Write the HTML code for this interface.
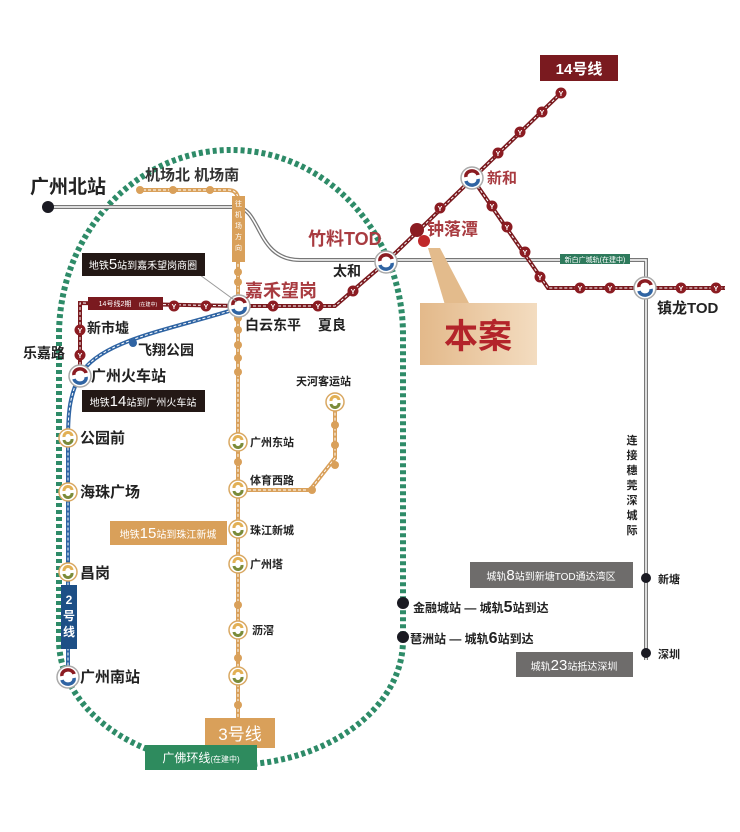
<!DOCTYPE html>
<html><head><meta charset="utf-8"><style>
html,body{margin:0;padding:0;background:#fff}
svg{display:block}
text{font-family:"Liberation Sans","Noto Sans CJK SC",sans-serif}
</style></head><body>
<svg width="740" height="832" viewBox="0 0 740 832" xmlns="http://www.w3.org/2000/svg">
<defs>
<linearGradient id="g" x1="0" x2="1"><stop offset="0" stop-color="#e3b98a"/><stop offset="1" stop-color="#f3dcc0"/></linearGradient>
<g id="hub"><circle r="11" fill="#fff" stroke="#aaa" stroke-width="1.5"/><path d="M-6,-1 A6,5 0 0 1 6,-3" stroke="#8b1c22" stroke-width="3.5" fill="none"/><path d="M-6,3 A6,5 0 0 0 6,1" stroke="#2f64a3" stroke-width="3.5" fill="none"/></g>
<g id="hubo"><circle r="9" fill="#fff" stroke="#d9a862" stroke-width="1.5"/><path d="M-4,-1 A4,4 0 0 1 4,-2" stroke="#e2b055" stroke-width="3" fill="none"/><path d="M-4,2 A4,4 0 0 0 4,1" stroke="#7a8b3a" stroke-width="3" fill="none"/></g>
<g id="ry"><circle r="5.5" fill="#8b1c22"/><text y="3" text-anchor="middle" font-size="7" fill="#fff" font-weight="bold">Y</text></g>
<g id="oy"><circle r="4" fill="#d9a05a"/></g>
</defs>

<!-- green loop -->
<path d="M59,640 L59,335 A172,185 0 0 1 403,335 L403,640 A172,125 0 0 1 59,640" fill="none" stroke="#2e8b68" stroke-width="6" stroke-dasharray="4 3"/>

<!-- gray intercity line -->
<g fill="none" stroke="#777" stroke-width="4"><path d="M48,207 L235,207 C262,207 255,260 300,260 L646,260 L646,660"/></g>
<g fill="none" stroke="#fff" stroke-width="1.5"><path d="M48,207 L235,207 C262,207 255,260 300,260 L646,260 L646,660"/></g>
<circle cx="48" cy="207" r="6" fill="#1a1a22"/>
<text x="30" y="193" font-size="19" fill="#222" font-weight="bold">广州北站</text>
<rect x="560" y="254" width="70" height="10" fill="#2e7a5c"/>
<text x="595" y="262" font-size="7" fill="#fff" text-anchor="middle">新白广城轨(在建中)</text>

<!-- orange line 3 -->
<g fill="none" stroke="#d9a05a" stroke-width="4"><path d="M138,190 L228,190 Q238,190 238,200 L238,718"/><path d="M238,490 L310,490 L335,458 L335,402"/></g>
<g stroke="#fff" stroke-width="1" stroke-dasharray="3 2" fill="none"><path d="M138,190 L228,190 Q238,190 238,200 L238,718"/><path d="M238,490 L310,490 L335,458 L335,402"/></g>
<use href="#oy" x="140" y="190"/><use href="#oy" x="173" y="190"/><use href="#oy" x="210" y="190"/><use href="#oy" x="238" y="200"/>
<use href="#oy" x="238" y="272"/><use href="#oy" x="238" y="282"/><use href="#oy" x="238" y="318"/><use href="#oy" x="238" y="330"/><use href="#oy" x="238" y="345"/><use href="#oy" x="238" y="358"/><use href="#oy" x="238" y="372"/><use href="#oy" x="238" y="462"/><use href="#oy" x="238" y="605"/><use href="#oy" x="238" y="658"/><use href="#oy" x="238" y="705"/>
<use href="#oy" x="312" y="490"/><use href="#oy" x="335" y="465"/><use href="#oy" x="335" y="445"/><use href="#oy" x="335" y="425"/>
<rect x="232" y="196" width="13" height="66" fill="#d9a05a"/>
<text x="238.5" y="206" font-size="7" fill="#fff" text-anchor="middle"><tspan x="238.5" dy="0">往</tspan><tspan x="238.5" dy="11">机</tspan><tspan x="238.5" dy="11">场</tspan><tspan x="238.5" dy="11">方</tspan><tspan x="238.5" dy="11">向</tspan></text>
<text x="145" y="180" font-size="15" fill="#333" font-weight="bold">机场北 机场南</text>
<rect x="205" y="718" width="70" height="30" fill="#d9a05a"/>
<text x="240" y="740" font-size="17" fill="#fff" text-anchor="middle">3号线</text>

<!-- blue line 2 -->
<path d="M239,308 C170,330 100,340 80,375 C70,395 68,410 68,440 L68,675" fill="none" stroke="#2f64a3" stroke-width="4"/>
<path d="M239,308 C170,330 100,340 80,375 C70,395 68,410 68,440 L68,675" fill="none" stroke="#fff" stroke-width="1" stroke-dasharray="3 2"/>
<circle cx="133" cy="343" r="4" fill="#2f64a3"/>
<rect x="61" y="585" width="16" height="64" fill="#1d4f86"/>
<text x="69" y="604" font-size="12" fill="#fff" text-anchor="middle" font-weight="bold"><tspan x="69">2</tspan><tspan x="69" dy="16">号</tspan><tspan x="69" dy="16">线</tspan></text>

<!-- red line 14 -->
<g fill="none" stroke="#7a1a1f" stroke-width="4"><path d="M80,375 L80,303 L239,306 L335,306 L386,262 L561,93"/><path d="M472,178 L548,288 L725,288"/></g>
<g fill="none" stroke="#fff" stroke-width="1" stroke-dasharray="3 2"><path d="M80,375 L80,303 L239,306 L335,306 L386,262 L561,93"/><path d="M472,178 L548,288 L725,288"/></g>
<rect x="88" y="297" width="75" height="13" fill="#7a1a1f"/>
<text x="115" y="306" font-size="7" fill="#fff" text-anchor="middle">14号线2期</text><text x="148" y="306" font-size="5" fill="#fff" text-anchor="middle">(在建中)</text>
<use href="#ry" x="80" y="330"/><use href="#ry" x="80" y="355"/><use href="#ry" x="174" y="306"/><use href="#ry" x="206" y="306"/><use href="#ry" x="273" y="306"/><use href="#ry" x="318" y="306"/><use href="#ry" x="353" y="291"/>
<use href="#ry" x="440" y="208"/><use href="#ry" x="498" y="153"/><use href="#ry" x="520" y="132"/><use href="#ry" x="542" y="112"/><use href="#ry" x="561" y="93"/>
<use href="#ry" x="492" y="206"/><use href="#ry" x="507" y="227"/><use href="#ry" x="525" y="252"/><use href="#ry" x="540" y="277"/><use href="#ry" x="580" y="288"/><use href="#ry" x="610" y="288"/><use href="#ry" x="681" y="288"/><use href="#ry" x="716" y="288"/>
<circle cx="417" cy="230" r="7" fill="#8b1c22"/>
<circle cx="424" cy="241" r="6" fill="#c0282a"/>
<rect x="540" y="55" width="78" height="26" fill="#7a1a1f"/>
<text x="579" y="74" font-size="15" fill="#fff" text-anchor="middle" font-weight="bold">14号线</text>

<!-- hubs -->
<use href="#hub" x="239" y="306"/><use href="#hub" x="386" y="262"/><use href="#hub" x="472" y="178"/><use href="#hub" x="645" y="288"/><use href="#hub" x="80" y="376"/>
<use href="#hubo" x="335" y="402"/><use href="#hubo" x="68" y="438"/><use href="#hubo" x="68" y="492"/><use href="#hubo" x="68" y="572"/><use href="#hub" x="68" y="677"/>
<use href="#hubo" x="238" y="442"/><use href="#hubo" x="238" y="489"/><use href="#hubo" x="238" y="529"/><use href="#hubo" x="238" y="564"/><use href="#hubo" x="238" y="630"/><use href="#hubo" x="238" y="676"/>

<!-- callouts -->
<line x1="200" y1="275" x2="237" y2="302" stroke="#999" stroke-width="1"/>
<rect x="82" y="253" width="123" height="23" fill="#231815"/>
<text x="143" y="269" font-size="10" fill="#fff" text-anchor="middle">地铁<tspan font-size="15">5</tspan>站到嘉禾望岗商圈</text>
<rect x="82" y="390" width="123" height="22" fill="#231815"/>
<text x="143" y="406" font-size="10" fill="#fff" text-anchor="middle">地铁<tspan font-size="15">14</tspan>站到广州火车站</text>
<rect x="110" y="521" width="117" height="24" fill="#d9a05a"/>
<text x="168" y="538" font-size="10" fill="#fff" text-anchor="middle">地铁<tspan font-size="15">15</tspan>站到珠江新城</text>

<polygon points="428,248 440,248 470,305 445,305" fill="#e3bb8c"/>
<rect x="420" y="303" width="117" height="62" fill="url(#g)"/>
<text x="478" y="348" font-size="34" fill="#b3242a" text-anchor="middle" font-weight="bold">本案</text>

<!-- labels -->
<g font-weight="bold" fill="#222">
<text x="245" y="297" font-size="18" fill="#a83b40">嘉禾望岗</text>
<text x="308" y="245" font-size="18" fill="#a83b40">竹料TOD</text>
<text x="333" y="276" font-size="14">太和</text>
<text x="427" y="235" font-size="17" fill="#a83b40">钟落潭</text>
<text x="487" y="183" font-size="15" fill="#a83b40">新和</text>
<text x="657" y="313" font-size="15">镇龙TOD</text>
<text x="245" y="330" font-size="14">白云东平</text><text x="318" y="330" font-size="14">夏良</text>
<text x="87" y="333" font-size="14">新市墟</text>
<text x="23" y="358" font-size="14">乐嘉路</text>
<text x="138" y="355" font-size="14">飞翔公园</text>
<text x="91" y="381" font-size="15">广州火车站</text>
<text x="296" y="385" font-size="11">天河客运站</text>
<text x="80" y="443" font-size="15">公园前</text>
<text x="80" y="497" font-size="15">海珠广场</text>
<text x="80" y="578" font-size="15">昌岗</text>
<text x="80" y="682" font-size="15">广州南站</text>
<text x="250" y="446" font-size="11">广州东站</text>
<text x="250" y="484" font-size="11">体育西路</text>
<text x="250" y="534" font-size="11">珠江新城</text>
<text x="250" y="568" font-size="11">广州塔</text>
<text x="252" y="634" font-size="11">沥滘</text>
<text x="413" y="612" font-size="12">金融城站 — 城轨<tspan font-size="16">5</tspan>站到达</text>
<text x="410" y="643" font-size="12">琶洲站 — 城轨<tspan font-size="16">6</tspan>站到达</text>
<text x="658" y="583" font-size="11">新塘</text>
<text x="658" y="658" font-size="11">深圳</text>
<text x="632" y="444" font-size="11" text-anchor="middle"><tspan x="632">连</tspan><tspan x="632" dy="15">接</tspan><tspan x="632" dy="15">穗</tspan><tspan x="632" dy="15">莞</tspan><tspan x="632" dy="15">深</tspan><tspan x="632" dy="15">城</tspan><tspan x="632" dy="15">际</tspan></text>
</g>
<circle cx="403" cy="603" r="6" fill="#1a1a22"/><circle cx="403" cy="637" r="6" fill="#1a1a22"/>
<circle cx="646" cy="578" r="5" fill="#1a1a22"/><circle cx="646" cy="653" r="5" fill="#1a1a22"/>
<rect x="470" y="562" width="163" height="26" fill="#6e6c6b"/>
<text x="551" y="580" font-size="10" fill="#fff" text-anchor="middle">城轨<tspan font-size="15">8</tspan>站到新塘TOD通达湾区</text>
<rect x="516" y="652" width="117" height="25" fill="#6e6c6b"/>
<text x="574" y="670" font-size="10" fill="#fff" text-anchor="middle">城轨<tspan font-size="15">23</tspan>站抵达深圳</text>

<rect x="145" y="745" width="112" height="25" fill="#2e8b5e"/>
<text x="201" y="762" font-size="12" fill="#fff" text-anchor="middle">广佛环线<tspan font-size="8">(在建中)</tspan></text>
</svg>
</body></html>
